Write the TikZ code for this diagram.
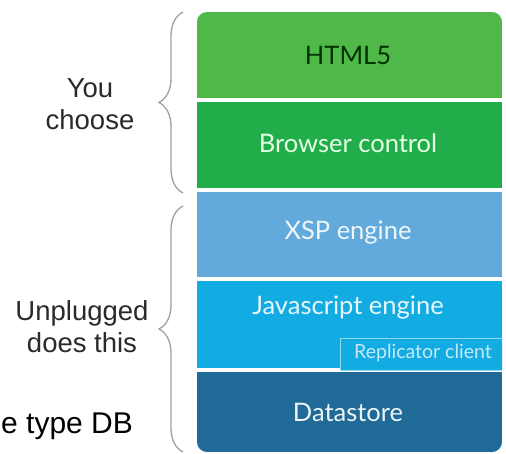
\documentclass[tikz,border=0pt]{standalone}
\usepackage{fontspec}
\setmainfont{Liberation Sans}
\newfontfamily\boxfont{Lato}
\usetikzlibrary{decorations.pathreplacing}
\definecolor{cHtml}{HTML}{50B848}
\definecolor{cBrowser}{HTML}{22AD4B}
\definecolor{cXsp}{HTML}{62AADC}
\definecolor{cJs}{HTML}{12ABE2}
\definecolor{cData}{HTML}{1F6A96}
\definecolor{cBrace}{HTML}{A0A0A0}
\definecolor{cLabel}{HTML}{2A2A2A}
\begin{document}
\begin{tikzpicture}[x=1pt,y=-1pt,
  layer/.style={anchor=north west, minimum width=305pt, inner sep=0pt, outer sep=0pt},
  boxtext/.style={font=\boxfont\fontsize{25.5}{30}\selectfont},
  sidelabel/.style={align=center, font=\fontsize{27.5}{32}\selectfont, text=cLabel},
  bracebar/.style={draw=cBrace, line width=1.3pt, decorate,
    decoration={brace, amplitude=24pt}}]
\useasboundingbox (0,0) rectangle (506,453);
\begin{scope}
\clip[rounded corners=10pt] (197,12) rectangle (502,452);
\node[layer, fill=cHtml, minimum height=86pt] (html) at (197,12) {};
\node[layer, fill=cBrowser, minimum height=86pt] (browser) at (197,102) {};
\node[layer, fill=cXsp, minimum height=85pt] (xsp) at (197,192) {};
\node[layer, fill=cJs, minimum height=87pt] (js) at (197,281) {};
\node[layer, fill=cData, minimum height=80pt] (data) at (197,372) {};
\node[anchor=north west, fill=cJs, draw=white!55!cJs, line width=0.8pt,
  minimum width=166pt, minimum height=32pt, inner sep=0pt] (rep) at (340,338) {};
\end{scope}
\node[boxtext, text=black!80!green] (t1) at (348,55) {HTML5};
\node[boxtext, text=white!90!green] (t2) at (348,143) {Browser control};
\node[boxtext, text=white!90!cXsp] (t3) at (348,233) {XSP engine};
\node[boxtext, text=white!90!cJs] (t4) at (348,308) {Javascript engine};
\node[boxtext, text=white!92!cData] (t5) at (348,412) {Datastore};
\node[font=\boxfont\fontsize{19.5}{22}\selectfont, text=white!75!cJs] (t6) at (423,353) {Replicator client};
\coordinate (b1s) at (183,193);
\coordinate (b1e) at (183,12);
\coordinate (b2s) at (183,452);
\coordinate (b2e) at (183,206);
\draw[bracebar] (b1s) -- (b1e);
\draw[bracebar] (b2s) -- (b2e);
\node[sidelabel] (you) at (90,104) {You\\choose};
\node[sidelabel] (unp) at (82,327) {Unplugged\\does this};
\node[anchor=base west, font=\fontsize{30}{34}\selectfont, text=black, inner sep=0pt] (db) at (1,433) {e type DB};
\end{tikzpicture}
\end{document}
